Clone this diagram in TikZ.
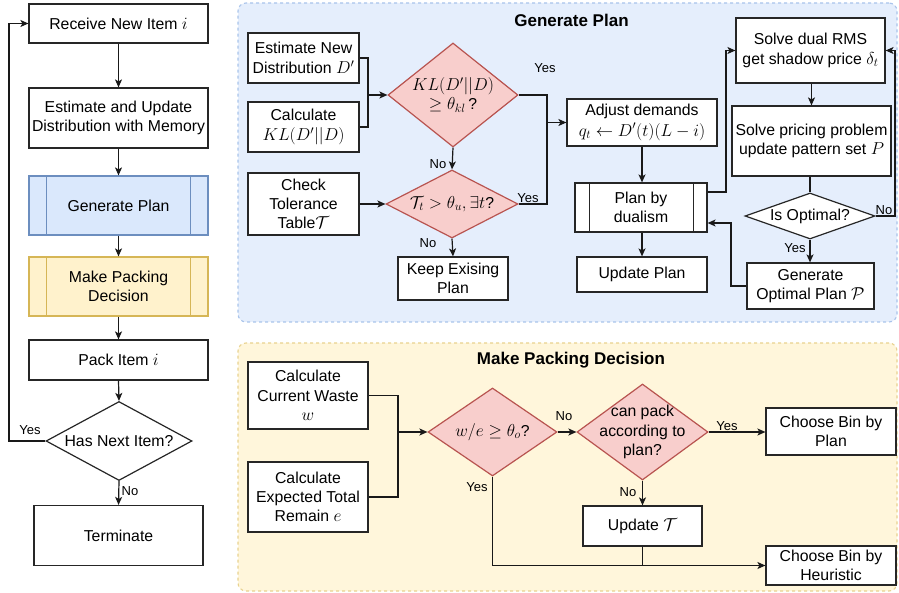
\documentclass[tikz,border=0pt]{standalone}
\usepackage{fontspec}
\setmainfont{Liberation Sans}
\usetikzlibrary{shapes.geometric,arrows.meta,calc}
\definecolor{redf}{HTML}{F8CECC}
\definecolor{redd}{HTML}{B85450}
\definecolor{bluef}{HTML}{DAE8FC}
\definecolor{blued}{HTML}{6C8EBF}
\definecolor{yelf}{HTML}{FFF2CC}
\definecolor{yeld}{HTML}{D6B656}
\definecolor{cbluef}{HTML}{E5EEFC}
\definecolor{cblued}{HTML}{A9C4EB}
\definecolor{cyelf}{HTML}{FFF6DB}
\definecolor{cyeld}{HTML}{E8D28F}
\newcommand{\mth}[1]{{\fontsize{18.5}{20}\selectfont$#1$}}
\tikzset{
 base/.style={font=\fontsize{15.8}{19.3}\selectfont, align=center, inner sep=1pt, line width=1.2pt},
 box/.style={base, draw=black!85, fill=white, rectangle},
 proc/.style={base, rectangle},
 dia/.style={diamond, draw=redd, fill=redf, line width=1.2pt, inner sep=0pt},
 wdia/.style={diamond, draw=black!85, fill=white, line width=1.2pt, inner sep=0pt},
 dtext/.style={font=\fontsize{15.8}{19.3}\selectfont, align=center, inner sep=0pt},
 lbl/.style={font=\fontsize{13}{15}\selectfont, inner sep=0pt},
 conn/.style={line width=1.2pt, draw=black!90},
 arr/.style={conn, -{Stealth[length=8pt,width=7pt,inset=2pt]}},
 cont/.style={rounded corners=8pt, dash pattern=on 3pt off 3pt, line width=1.1pt},
 ttl/.style={font=\bfseries\fontsize{17}{20}\selectfont, inner sep=0pt, anchor=base},
}
\begin{document}
\begin{tikzpicture}[x=1pt,y=-1pt]
\useasboundingbox (0,0) rectangle (899,593);
% containers
\node[cont, draw=cblued, fill=cbluef, minimum width=659, minimum height=319] (gpc) at (567.5,162.5) {};
\node[ttl] (gpt) at (571.5,27) {Generate Plan};
\node[cont, draw=cyeld, fill=cyelf, minimum width=659, minimum height=248] (mpc) at (567.5,467) {};
\node[ttl] (mpt) at (571,364) {Make Packing Decision};

% left column
\node[box, minimum width=179, minimum height=39] (recv) at (118.5,23.5) {Receive New Item \mth{i}};
\node[box, minimum width=179, minimum height=60] (est) at (118.5,118) {Estimate and Update\\Distribution with Memory};
\node[proc, draw=blued, fill=bluef, minimum width=179, minimum height=59] (gp) at (118.5,205.5) {Generate Plan};
\draw[blued, line width=1.1pt] ([xshift=18]gp.north west) -- ([xshift=18]gp.south west);
\draw[blued, line width=1.1pt] ([xshift=-18]gp.north east) -- ([xshift=-18]gp.south east);
\node[proc, draw=yeld, fill=yelf, minimum width=179, minimum height=59] (mpd) at (118.5,286.5) {Make Packing\\Decision};
\draw[yeld, line width=1.1pt] ([xshift=18]mpd.north west) -- ([xshift=18]mpd.south west);
\draw[yeld, line width=1.1pt] ([xshift=-18]mpd.north east) -- ([xshift=-18]mpd.south east);
\node[box, minimum width=179, minimum height=40] (pack) at (118.5,360) {Pack Item \mth{i}};
\node[wdia, minimum width=146, minimum height=79, label={[dtext]center:{Has Next Item?}}] (hn) at (119,441) {};
\node[box, minimum width=169, minimum height=60] (term) at (118.5,535.5) {Terminate};
\coordinate (lp) at (9,441);

\draw[arr] (recv.south) -- (est.north);
\draw[arr] (est.south) -- (gp.north);
\draw[arr] (gp.south) -- (mpd.north);
\draw[arr] (mpd.south) -- (pack.north);
\draw[arr] (pack.south) -- (hn.north);
\draw[arr] (hn.south) -- (term.north);
\draw[arr] (hn.west) -- (lp) |- (recv.west);
\node[lbl] (l1) at (30,430) {Yes};
\node[lbl] (l2) at (130,491) {No};

% generate plan
\node[box, minimum width=111, minimum height=50] (estd) at (303.5,58) {Estimate New\\Distribution \mth{D'}};
\node[box, minimum width=111, minimum height=50] (calc) at (303.5,127) {Calculate\\[1pt]\mth{KL(D'||D)}};
\node[box, minimum width=111, minimum height=62] (chk) at (303.5,204) {Check\\Tolerance\\Table\mth{\mathcal{T}}};
\node[dia, minimum width=130, minimum height=104, label={[dtext]center:{\mth{KL(D'||D)}\\\mth{\geq\theta_{kl}}\,?}}] (kl) at (453,95) {};
\node[dia, minimum width=132, minimum height=68, label={[dtext]center:{\mth{\mathcal{T}_t>\theta_u,\exists t}?}}] (tt) at (452,204) {};
\node[box, minimum width=110, minimum height=43] (keep) at (453,278.5) {Keep Exising\\Plan};
\node[box, minimum width=150, minimum height=47] (adj) at (642,122.5) {Adjust demands\\[1pt]\mth{q_t\leftarrow D'(t)(L-i)}};
\node[box, minimum width=132, minimum height=49] (dual) at (641,207.5) {Plan by\\dualism};
\draw[black!85, line width=1.1pt] ([xshift=15]dual.north west) -- ([xshift=15]dual.south west);
\draw[black!85, line width=1.1pt] ([xshift=-14]dual.north east) -- ([xshift=-14]dual.south east);
\node[box, minimum width=130, minimum height=35] (upd) at (642,274.5) {Update Plan};
\node[box, minimum width=149, minimum height=65] (rms) at (810.5,50.5) {Solve dual RMS\\get shadow price \mth{\delta_t}};
\node[box, minimum width=159, minimum height=70] (pri) at (811.5,141) {Solve pricing problem\\update pattern set \mth{P}};
\node[wdia, minimum width=130, minimum height=46, label={[dtext]center:{Is Optimal?}}] (opt) at (810,216) {};
\node[box, minimum width=127, minimum height=46] (gen) at (810.5,286) {Generate\\Optimal Plan \mth{\mathcal{P}}};

\coordinate (m1) at (368,95);
\coordinate (m2) at (547,122.5);
\coordinate (c1) at (726,192);
\coordinate (c2) at (895,216);
\coordinate (c3) at (731,223);
\draw[conn] (estd.east) -| (m1);
\draw[conn] (calc.east) -| (m1);
\draw[arr] (m1) -- (kl.west);
\draw[arr] (kl.south) -- (tt.north);
\draw[arr] (chk.east) -- (tt.west);
\draw[arr] (tt.south) -- (keep.north);
\draw[conn] (kl.east) -| (m2);
\draw[conn] (tt.east) -| (m2);
\draw[arr] (m2) -- (adj.west);
\draw[arr] (adj.south) -- (adj.south |- dual.north);
\draw[arr] (dual.south -| upd.north) -- (upd.north);
\draw[arr] (dual.east |- c1) -- (c1) |- (rms.west);
\draw[arr] (rms.south -| pri.north) -- (pri.north);
\draw[conn] (pri.south -| opt.north) -- (opt.north);
\draw[arr] (opt.east) -- (c2) |- (rms.east);
\draw[arr] (opt.south) -- (opt.south |- gen.north);
\draw[arr] (gen.west) -| (c3) -- (dual.east |- c3);
\node[lbl] (l3) at (545,68) {Yes};
\node[lbl] (l4) at (438,164) {No};
\node[lbl] (l5) at (528,198) {Yes};
\node[lbl] (l6) at (428,243) {No};
\node[lbl] (l7) at (884,210) {No};
\node[lbl] (l8) at (795,248) {Yes};

% make packing decision
\node[box, minimum width=120, minimum height=67] (waste) at (308,395.5) {Calculate\\Current Waste\\\mth{w}};
\node[box, minimum width=120, minimum height=70] (rem) at (308,497) {Calculate\\Expected Total\\Remain \mth{e}};
\node[dia, minimum width=129, minimum height=88, label={[dtext]center:{\mth{w/e\geq\theta_o}?}}] (we) at (492.5,432) {};
\node[dia, minimum width=131, minimum height=96, label={[dtext]center:{can pack\\according to\\plan?}}] (can) at (642.5,432) {};
\node[box, minimum width=130, minimum height=47] (cbp) at (831,431.5) {Choose Bin by\\Plan};
\node[box, minimum width=119, minimum height=40] (updt) at (642.5,526) {Update \mth{\mathcal{T}}};
\node[box, minimum width=130, minimum height=39] (cbh) at (831,565.5) {Choose Bin by\\Heuristic};
\coordinate (m3) at (398,432);
\draw[conn] (waste.east) -| (m3);
\draw[conn] (rem.east) -| (m3);
\draw[arr] (m3) -- (we.west);
\draw[arr] (we.east) -- (can.west);
\draw[arr] (can.east) -- (cbp.west |- can.east);
\draw[arr] (can.south) -- (updt.north);
\draw[conn] (updt.south) -- (updt.south |- cbh.west);
\draw[arr] (we.south) |- (cbh.west);
\node[lbl] (l9) at (564,416) {No};
\node[lbl] (l10) at (477,487) {Yes};
\node[lbl] (l11) at (727,426) {Yes};
\node[lbl] (l12) at (628,492) {No};
\end{tikzpicture}
\end{document}
